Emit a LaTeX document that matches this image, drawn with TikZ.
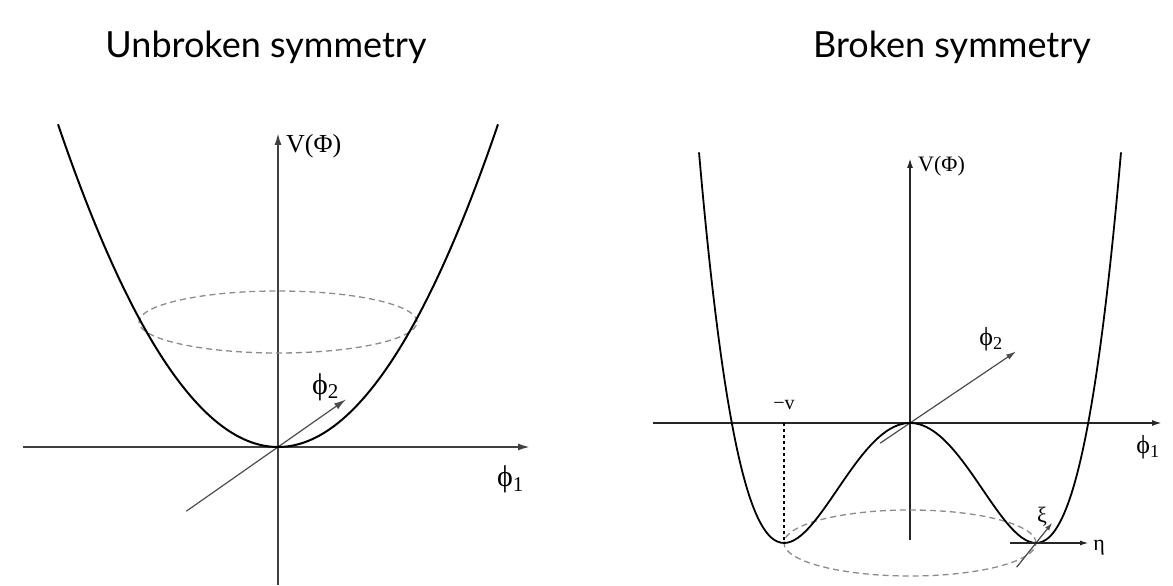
\RequirePackage{fix-cm}
\documentclass[tikz,border=0pt]{standalone}
\usepackage{fontspec}
\setsansfont{Lato}
\newfontfamily\timesfont{Liberation Serif}
\usetikzlibrary{arrows.meta,calc}

\begin{document}
\begin{tikzpicture}[x=1pt, y=1pt, >={Latex[length=12pt,width=7pt]}]

    % 固定画布大小 (与原图像素一致)
    \useasboundingbox (0,0) rectangle (1173,586);

    \tikzset{
      axis/.style={line width=1.8pt, draw=black!75},
      curve/.style={line width=2pt, draw=black},
      ring/.style={line width=1.3pt, draw=black!45, dash pattern=on 6pt off 4pt},
      thin axis/.style={line width=1.2pt, draw=black!70},
      title/.style={font=\sffamily\fontsize{36}{40}\selectfont, anchor=base},
      vlabel/.style={font=\timesfont\fontsize{26}{30}\selectfont, inner sep=0pt},
      flabel/.style={font=\timesfont\fontsize{30}{36}\selectfont, inner sep=0pt}
    }

    % 0. 两个标题
    \node[title] (tUnb) at (266,528) {Unbroken symmetry};
    \node[title] (tBrk) at (952,528) {Broken symmetry};

    % 1. 左图：对称未破缺，抛物线势
    \begin{scope}[shift={(278,139)}]
      \def\k{66.667}
      \coordinate (O1) at (0,0);
      \coordinate (L1) at (-255,0);
      \coordinate (R1) at (252,0);
      \coordinate (B1) at (0,-138);
      \coordinate (T1) at (0,314);
      \coordinate (Pa1) at (215:112);
      \coordinate (Pb1) at (35:83);

      % 坐标轴与 phi_2 方向
      \draw[axis, ->] (L1) -- (R1);
      \draw[axis, ->] (B1) -- (T1);
      \draw[thin axis, ->] (Pa1) -- (Pb1);

      % 虚线圆环 (透视椭圆)
      \draw[ring] (0,125) ellipse (139 and 31);

      % 抛物线 V = k (x/100)^2
      \draw[curve] plot[domain=-220:220, samples=80, smooth] (\x, {\k*(\x/100)^2});

      % 标注
      \node[vlabel, anchor=west] (V1) at ($(T1)+(8,-13)$) {V(Φ)};
      \node[flabel] (f2L) at (47.5,60) {ϕ\textsubscript{2}};
      \node[flabel] (f1L) at (232.5,-32.5) {ϕ\textsubscript{1}};
    \end{scope}

    % 2. 右图：对称破缺，墨西哥帽势
    \begin{scope}[shift={(910,163)}, >={Latex[length=10pt,width=6pt]}]
      \def\vev{126}
      \def\dep{120}
      \coordinate (O2) at (0,0);
      \coordinate (L2) at (-257,0);
      \coordinate (R2) at (252,0);
      \coordinate (B2) at (0,-117);
      \coordinate (T2) at (0,265);
      \coordinate (Pa2) at (214:36);
      \coordinate (Pb2) at (34:128);
      \coordinate (Mv) at (-\vev,0);
      \coordinate (M1) at (-\vev,-\dep);
      \coordinate (M2) at (\vev,-\dep);

      % 坐标轴与 phi_2 方向
      \draw[axis, draw=black!85, ->] (L2) -- (R2);
      \draw[axis, draw=black!85, ->] (B2) -- (T2);
      \draw[thin axis, ->] (Pa2) -- (Pb2);

      % -v 处的竖直虚线
      \draw[line width=1.5pt, dash pattern=on 3pt off 3pt] (Mv) -- (M1);

      % 势能谷底的虚线圆环
      \draw[ring] (0,-120) ellipse (126 and 33);

      % 四次势 V = dep((x/vev)^4 - 2(x/vev)^2)
      \draw[curve, line width=1.8pt] plot[domain=-211:211, samples=120, smooth]
        (\x, {\dep*((\x/\vev)^4 - 2*(\x/\vev)^2)});

      % 谷底的 xi 与 eta 方向
      \coordinate (Xa) at ($(M2)+(231.3:31)$);
      \coordinate (Xb) at ($(M2)+(51.3:26)$);
      \coordinate (Ea) at ($(M2)+(-26,0)$);
      \coordinate (Eb) at ($(M2)+(53,0)$);
      \draw[thin axis, ->, >={Latex[length=8pt,width=5pt]}] (Xa) -- (Xb);
      \draw[axis, draw=black!85, line width=1.6pt, ->, >={Latex[length=9pt,width=5pt]}] (Ea) -- (Eb);

      % 标注
      \node[vlabel, font=\timesfont\fontsize{22}{26}\selectfont, anchor=west] (V2) at ($(T2)+(8,-8)$) {V(Φ)};
      \node[vlabel, font=\timesfont\fontsize{20}{24}\selectfont] (mv) at (-126,18) {−v};
      \node[flabel, font=\timesfont\fontsize{26}{30}\selectfont] (f2R) at (81,84) {ϕ\textsubscript{2}};
      \node[flabel, font=\timesfont\fontsize{26}{30}\selectfont] (f1R) at (238,-24) {ϕ\textsubscript{1}};
      \node[flabel, font=\timesfont\fontsize{22}{26}\selectfont] (xi) at (132,-94) {ξ};
      \node[flabel, font=\timesfont\fontsize{22}{26}\selectfont] (eta) at (189,-125) {η};
    \end{scope}

\end{tikzpicture}
\end{document}
